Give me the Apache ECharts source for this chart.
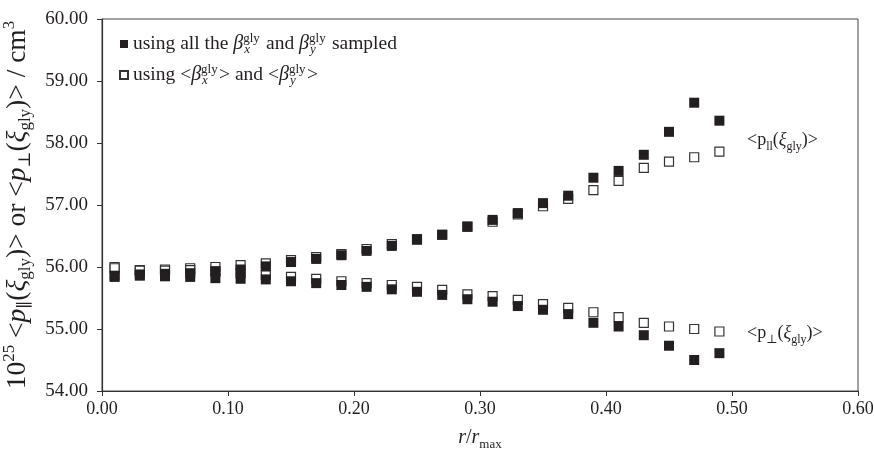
<!DOCTYPE html>
<html>
<head>
<meta charset="utf-8">
<script src="https://cdn.jsdelivr.net/npm/echarts@6/dist/echarts.min.js"></script>
<style>
  html, body { margin: 0; padding: 0; background: #fff; }
  #chart { width: 874px; height: 452px; }
</style>
</head>
<body>
<div id="chart"></div>
<script>
// 数据
const rValues = [0.01, 0.03, 0.05, 0.07, 0.09, 0.11, 0.13, 0.15, 0.17, 0.19, 0.21, 0.23, 0.25,
  0.27, 0.29, 0.31, 0.33, 0.35, 0.37, 0.39, 0.41, 0.43, 0.45, 0.47, 0.49];
// <p∥> 使用全部 beta 采样
const parAll = [55.86, 55.88, 55.89, 55.90, 55.93, 55.96, 56.01, 56.08, 56.13, 56.19, 56.26, 56.34, 56.44,
  56.52, 56.65, 56.76, 56.87, 57.03, 57.15, 57.44, 57.55, 57.81, 58.18, 58.65, 58.36];
// <p∥> 使用平均 beta
const parMean = [56.00, 55.95, 55.96, 55.98, 56.00, 56.03, 56.06, 56.11, 56.16, 56.21, 56.29, 56.37, 56.45,
  56.52, 56.65, 56.73, 56.85, 56.98, 57.10, 57.24, 57.39, 57.60, 57.70, 57.77, 57.86];
// <p⊥> 使用全部 beta 采样
const perpAll = [55.84, 55.86, 55.85, 55.84, 55.82, 55.81, 55.80, 55.77, 55.74, 55.71, 55.68, 55.64, 55.60,
  55.55, 55.48, 55.44, 55.37, 55.31, 55.24, 55.10, 55.04, 54.90, 54.73, 54.50, 54.61];
// <p⊥> 使用平均 beta
const perpMean = [55.98, 55.94, 55.94, 55.95, 55.93, 55.90, 55.87, 55.84, 55.81, 55.77, 55.74, 55.71, 55.68,
  55.63, 55.56, 55.53, 55.47, 55.40, 55.34, 55.27, 55.19, 55.10, 55.04, 55.00, 54.96];

const xTicks = { min: 0, max: 0.6, interval: 0.1 };
const yTicks = { min: 54, max: 60, interval: 1 };

const FONT = '"Liberation Serif", "DejaVu Serif", serif';
const INK = '#231f20';

function pairs(ys) {
  return rValues.map((x, i) => [x, ys[i]]);
}

const yNameRich = {
  n: { fontFamily: FONT, fontSize: 27.5, color: INK, verticalAlign: 'middle', lineHeight: 33 },
  i: { fontFamily: FONT, fontSize: 27.5, color: INK, fontStyle: 'italic', verticalAlign: 'middle', lineHeight: 33 },
  sup: { fontFamily: FONT, fontSize: 17, color: INK, verticalAlign: 'top', lineHeight: 33 },
  sub: { fontFamily: FONT, fontSize: 17, color: INK, verticalAlign: 'bottom', lineHeight: 28 }
};

const xNameRich = {
  n: { fontFamily: FONT, fontSize: 20, color: INK, verticalAlign: 'middle', lineHeight: 26 },
  i: { fontFamily: FONT, fontSize: 20, color: INK, fontStyle: 'italic', verticalAlign: 'middle', lineHeight: 26 },
  sub: { fontFamily: FONT, fontSize: 13, color: INK, verticalAlign: 'bottom', lineHeight: 22 }
};

const legendRich = {
  t: { fontFamily: FONT, fontSize: 19.5, color: INK, lineHeight: 24, verticalAlign: 'middle' },
  b: { fontFamily: FONT, fontSize: 20, color: INK, fontStyle: 'italic', lineHeight: 24, verticalAlign: 'middle' },
  sup: { fontFamily: FONT, fontSize: 13, color: INK, lineHeight: 24, verticalAlign: 'top', width: 1 },
  sub: { fontFamily: FONT, fontSize: 13, color: INK, fontStyle: 'italic', lineHeight: 21, verticalAlign: 'bottom', width: 17 }
};

const noteRich = {
  n: { fontFamily: FONT, fontSize: 18, fill: INK, lineHeight: 26, verticalAlign: 'middle' },
  i: { fontFamily: FONT, fontSize: 18, fill: INK, fontStyle: 'italic', lineHeight: 26, verticalAlign: 'middle' },
  sub: { fontFamily: FONT, fontSize: 12, fill: INK, lineHeight: 21, verticalAlign: 'bottom' }
};

const nameAll = 'all';
const nameMean = 'mean';

const chart = echarts.init(document.getElementById('chart'));

const option = {
  backgroundColor: '#fff',
  animation: false,
  grid: {
    left: 102, right: 16, top: 19, bottom: 61,
    containLabel: false,
    outerBoundsMode: 'none',
    show: true, borderColor: '#444', borderWidth: 1
  },
  legend: {
    orient: 'vertical',
    left: 114, top: 27,
    itemGap: 7,
    itemWidth: 8, itemHeight: 8,
    data: [nameAll, nameMean],
    formatter: function(name) {
      if (name === nameAll) {
        return '{t|using all the }{b|β}{sup|gly}{sub|x}{t| and }{b|β}{sup|gly}{sub|y}{t| sampled}';
      }
      return '{t|using <}{b|β}{sup|gly}{sub|x}{t|> and <}{b|β}{sup|gly}{sub|y}{t|>}';
    },
    textStyle: { rich: legendRich }
  },
  xAxis: {
    type: 'value',
    min: xTicks.min, max: xTicks.max, interval: xTicks.interval,
    name: '{i|r}{n|/}{i|r}{sub|max}',
    nameLocation: 'middle',
    nameGap: 34,
    nameTextStyle: { rich: xNameRich },
    axisLine: { lineStyle: { color: '#333', width: 1.2 } },
    axisTick: { show: true, length: 5, lineStyle: { color: '#333' } },
    axisLabel: {
      color: INK, fontFamily: FONT, fontSize: 18, margin: 9,
      formatter: v => v.toFixed(2)
    },
    splitLine: { show: false }
  },
  yAxis: {
    type: 'value',
    min: yTicks.min, max: yTicks.max, interval: yTicks.interval,
    name: '{n|10}{sup|25}{n| <}{i|p}{sub|∥}{n|(}{i|ξ}{sub|gly}{n|)> or <}{i|p}{sub|⊥}{n|(}{i|ξ}{sub|gly}{n|)> / cm}{sup|3}',
    nameLocation: 'middle',
    nameRotate: 90,
    nameGap: 63,
    nameTextStyle: { rich: yNameRich },
    axisLine: { lineStyle: { color: '#333', width: 1.2 } },
    axisTick: { show: true, length: 5, lineStyle: { color: '#333' } },
    axisLabel: {
      color: INK, fontFamily: FONT, fontSize: 19, margin: 14,
      formatter: v => v.toFixed(2)
    },
    splitLine: { show: false }
  },
  series: [
    {
      name: nameMean, type: 'scatter', symbol: 'rect', symbolSize: 9,
      itemStyle: { color: '#fff', borderColor: '#333', borderWidth: 1.2, opacity: 1 },
      data: pairs(parMean)
    },
    {
      name: nameMean, type: 'scatter', symbol: 'rect', symbolSize: 9,
      itemStyle: { color: '#fff', borderColor: '#333', borderWidth: 1.2, opacity: 1 },
      data: pairs(perpMean)
    },
    {
      name: nameAll, type: 'scatter', symbol: 'rect', symbolSize: 10,
      itemStyle: { color: INK, opacity: 1 },
      data: pairs(parAll)
    },
    {
      name: nameAll, type: 'scatter', symbol: 'rect', symbolSize: 10,
      itemStyle: { color: INK, opacity: 1 },
      data: pairs(perpAll)
    }
  ],
  graphic: [
    {
      type: 'text', left: 747, top: 131,
      style: { text: '{n|<p}{sub|ll}{n|(}{i|ξ}{sub|gly}{n|)>}', rich: noteRich }
    },
    {
      type: 'text', left: 747, top: 324,
      style: { text: '{n|<p}{sub|⊥}{n|(}{i|ξ}{sub|gly}{n|)>}', rich: noteRich }
    }
  ]
};

chart.setOption(option);
</script>
</body>
</html>
